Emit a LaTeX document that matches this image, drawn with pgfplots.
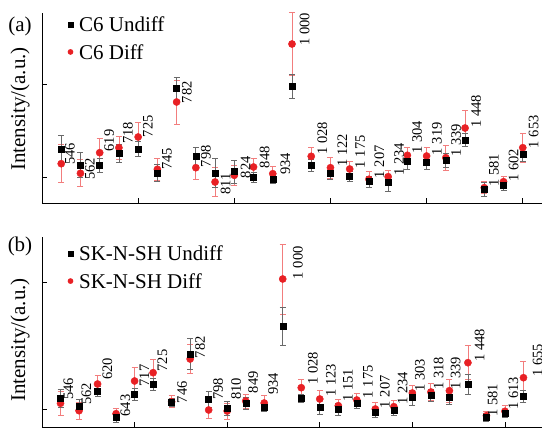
\documentclass[border=0pt]{standalone}
\usepackage{pgfplots}
\pgfplotsset{compat=1.18}
\usepackage{pgfplotstable}
\usepackage{fontspec}
\setmainfont{Liberation Serif}
\definecolor{myred}{RGB}{232,32,36}
\definecolor{errred}{RGB}{242,125,125}
\definecolor{errgray}{RGB}{105,105,105}
\newcommand\lblfont{\fontsize{14.5}{16}\selectfont}
\newcommand\bigfont{\fontsize{21}{24}\selectfont}

% panel (a): i, Undiff value, error, Diff value, error
\pgfplotstableread{
i u ue d de
1 53.7 13.6 39.3 19
2 38 12.7 29.7 13.4
3 38 7 50.3 14.4
4 49.7 9 55.3 11.7
5 54 7.7 66 14.7
6 30 8.7 33.7 11.3
7 114.3 11.3 101 22
8 47 9 35.3 11.7
9 30 14.7 21 14.7
10 31.3 11.3 27.7 10
11 25.3 5 36 9
12 23.7 4 29.3 7
13 116.7 12.3 159 31.7
14 37.7 6.3 46.7 9.3
15 30 6 35.3 10.5
16 27 5 34 8
17 21.3 5.7 23.7 8
18 20.3 8.3 26.3 6.3
19 41.3 7.3 47.7 8.3
20 40.3 7 47 8.7
21 42.3 7 45.3 12.3
22 63 6.7 75 18
23 13.7 7 15.3 6
24 18 5 21.3 5.7
25 48.7 7 55.3 14.3
}\tabA

% panel (b)
\pgfplotstableread{
i u ue d de
1 28.7 9.3 23.7 11.7
2 21 6.7 16.3 8.7
3 36 5 43 8.3
4 10 5 13.3 5.3
5 32.7 6 46 13.3
6 42.7 5.7 54.3 13
7 24.7 4 25.3 6
8 73 15.7 68 14.3
9 27.7 7.7 17 8.3
10 18.7 7 16 8
11 24 6 26 7
12 19.3 4 24 7.3
13 100.7 19 148 35
14 29 4 39.3 8
15 19.3 7 28 8.3
16 17.3 6 21.3 6
17 23.3 5 27 6.3
18 14.3 5 18 6.3
19 16.3 5 20.3 6.7
20 29.3 7.7 34 7.3
21 31.3 6 35 8.7
22 29.3 7 36.3 11.3
23 42.7 10 64.3 17
24 10 4 11.3 4.7
25 13.3 4 15.7 5.7
26 31 6 49.3 16.3
}\tabB

\pgfplotsset{
  panel/.style={
    scale only axis, width=500pt, height=190pt,
    axis lines=left, axis line style={-, line width=0.8pt},
    tick align=inside, major tick length=4.5pt,
    tick style={black, line width=0.8pt},
    xticklabels={}, yticklabels={},
    ymin=0, ymax=190, xmin=0,
    clip=false,
    legend cell align=left,
    legend style={draw=none, fill=white, font=\bigfont, inner sep=3pt,
      row sep=11pt, column sep=6pt,
      nodes={inner sep=0pt, text height=15.5pt, text depth=1pt}},
    legend image code/.code={\draw[#1] plot coordinates {(0pt,0pt)};},
  },
  undiff/.style={only marks, mark=square*, mark size=3pt, color=black,
    error bars/y dir=both, error bars/y explicit,
    error bars/error bar style={errgray, line width=0.8pt},
    error bars/error mark options={rotate=90, errgray, mark size=3pt, line width=0.8pt}},
  diff/.style={only marks, mark=*, mark size=3.6pt, color=myred,
    error bars/y dir=both, error bars/y explicit,
    error bars/error bar style={errred, line width=0.8pt},
    error bars/error mark options={rotate=90, errred, mark size=3pt, line width=0.8pt}},
  lbl/.style={draw=none, mark=none, nodes near coords, point meta=explicit symbolic,
    every node near coord/.append style={rotate=90, anchor=west, inner sep=0pt,
      font=\lblfont, text=black}},
}

\begin{document}
\begin{tikzpicture}
% ---------------- panel (a)
\begin{axis}[panel, at={(42pt,225pt)}, anchor=south west, xmax=26,
  xtick={5,10,15,20,25}, ytick={26,119},
  legend style={at={(rel axis cs:0.0454,1.0)}, anchor=north west}]
\addlegendimage{only marks, mark=square*, mark size=2.3pt, black}
\addlegendimage{only marks, mark=*, mark size=2.6pt, myred}
\legend{C6 Undiff, C6 Diff}
\addplot[diff, forget plot] table[x=i, y=d, y error=de] {\tabA};
\addplot[undiff, forget plot] table[x=i, y=u, y error=ue] {\tabA};
\addplot[lbl, forget plot] coordinates {
(1.45,38)[546] (2.49,23)[562] (3.49,51.3)[619] (4.47,59)[718] (5.51,65.7)[725]
(6.50,33)[745] (7.53,99.7)[782] (8.52,35.7)[798] (9.55,8)[811] (10.59,24.7)[824]
(11.58,34.7)[848] (12.66,28)[934] (13.65,157)[1~000] (14.58,48)[1~028]
(15.62,36.3)[1~122] (16.55,34.7)[1~175] (17.54,24.7)[1~207] (18.57,27)[1~234]
(19.51,49)[1~304] (20.54,47.7)[1~319] (21.53,46.3)[1~339] (22.57,75.3)[1~448]
(23.50,16.3)[1~581] (24.53,21.3)[1~602] (25.57,54.7)[1~653]
};
\end{axis}
% ---------------- panel (b)
\begin{axis}[panel, at={(42pt,1pt)}, anchor=south west, xmax=27,
  xtick={5,10,15,20,25}, ytick={18,145},
  legend style={at={(rel axis cs:0.0454,0.973)}, anchor=north west}]
\addlegendimage{only marks, mark=square*, mark size=2.3pt, black}
\addlegendimage{only marks, mark=*, mark size=2.6pt, myred}
\legend{SK-N-SH Undiff, SK-N-SH Diff}
\addplot[diff, forget plot] table[x=i, y=d, y error=de] {\tabB};
\addplot[undiff, forget plot] table[x=i, y=u, y error=ue] {\tabB};
\addplot[lbl, forget plot] coordinates {
(1.43,27)[546] (2.40,22)[562] (3.53,47)[620] (4.50,10.3)[643] (5.53,40.3)[717]
(6.50,55.3)[725] (7.57,23.7)[746] (8.54,68.7)[782] (9.51,27)[798] (10.48,27)[810]
(11.40,33.7)[849] (12.48,32)[934] (13.82,147.7)[1~000] (14.63,42)[1~028]
(15.60,30.3)[1~123] (16.52,25.3)[1~151] (17.60,28.7)[1~175] (18.51,18.7)[1~207]
(19.48,22)[1~234] (20.40,35.3)[1~303] (21.42,37)[1~318] (22.34,37)[1~339]
(23.63,65.3)[1~448] (24.33,10.3)[1~581] (25.46,17)[1~613] (26.76,50.3)[1~655]
};
\end{axis}
% panel letters and axis titles
\node[anchor=base, font=\bigfont] at (20pt,396.5pt) {(a)};
\node[anchor=base, rotate=90, font=\bigfont] at (25pt,319pt) {Intensity/(a.u.)};
\node[anchor=base, font=\bigfont] at (20pt,176pt) {(b)};
\node[anchor=base, rotate=90, font=\bigfont] at (25pt,88pt) {Intensity/(a.u.)};
\pgfresetboundingbox
\path[use as bounding box] (0,0) rectangle (542pt,428pt);
\end{tikzpicture}
\end{document}
